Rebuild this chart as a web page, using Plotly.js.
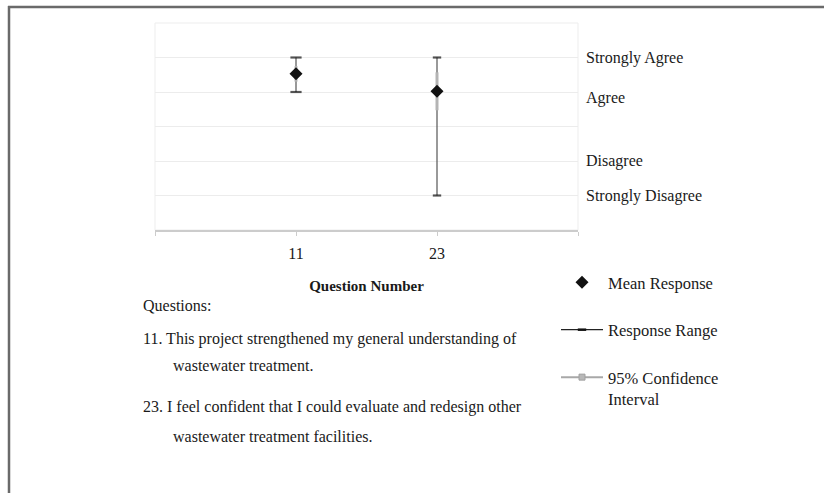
<!DOCTYPE html>
<html>
<head>
<meta charset="utf-8">
<script src="https://cdn.plot.ly/plotly-3.0.1.min.js"></script>
<style>
  html, body { margin: 0; padding: 0; background: #ffffff; }
  #chart { width: 824px; height: 493px; }
</style>
</head>
<body>
<div id="chart"></div>
<script>
// ---------------- data ----------------
const questions = ["11", "23"];
const meanResponse = [4.53, 4.02];
const rangeMin = [4, 1];
const rangeMax = [5, 5];
const ciLow = [4.30, 3.47];
const ciHigh = [4.75, 4.57];
const scaleValues = [5, 4, 2, 1];
const scaleLabels = ["Strongly Agree", "Agree", "Disagree", "Strongly Disagree"];
const questionIntro = "Questions:";
const questionLines = [
  ["This project strengthened my general understanding of", "wastewater treatment."],
  ["I feel confident that I could evaluate and redesign other", "wastewater treatment facilities."]
];
const legendNames = ["Mean Response", "Response Range", "95% Confidence<br>Interval"];

// ---------------- layout geometry ----------------
const W = 824, H = 493;
const M = { l: 155, r: 246, t: 23, b: 263 };
const PW = W - M.l - M.r, PH = H - M.t - M.b;
const px2x = px => (px - M.l) / PW;
const py2y = py => (H - M.b - py) / PH;

const xpos = questions.map((q, i) => i + 1);
const FONT = "Liberation Serif, Times New Roman, serif";

const traces = [];
// response range vertical lines
traces.push({
  x: xpos, y: meanResponse, type: "scatter", mode: "markers",
  marker: { size: 1, opacity: 0 }, showlegend: false, hoverinfo: "skip",
  error_y: {
    type: "data", symmetric: false,
    array: rangeMax.map((v, i) => v - meanResponse[i]),
    arrayminus: meanResponse.map((v, i) => v - rangeMin[i]),
    color: "#555555", thickness: 1.2, width: 0
  }
});
// confidence interval
traces.push({
  x: xpos, y: meanResponse, type: "scatter", mode: "markers",
  marker: { size: 1, opacity: 0 }, showlegend: false, hoverinfo: "skip",
  error_y: {
    type: "data", symmetric: false,
    array: ciHigh.map((v, i) => v - meanResponse[i]),
    arrayminus: meanResponse.map((v, i) => v - ciLow[i]),
    color: "#b4b4b4", thickness: 3, width: 0
  }
});
// range caps
[rangeMax, rangeMin].forEach(arr => {
  traces.push({
    x: xpos, y: arr, type: "scatter", mode: "markers", showlegend: false,
    marker: { symbol: "line-ew", size: [8, 6], line: { width: 2.2, color: "#111111" } },
    hoverinfo: "skip"
  });
});
// mean
traces.push({
  x: xpos, y: meanResponse, type: "scatter", mode: "markers", showlegend: false,
  marker: { symbol: "diamond", size: 10, color: "#111111" }
});
// legend entries
traces.push({
  x: [null], y: [null], type: "scatter", mode: "markers", name: legendNames[0],
  legendgroup: "a", marker: { symbol: "diamond", size: 10, color: "#111111" }
});
traces.push({
  x: [null], y: [null], type: "scatter", mode: "lines+markers", name: legendNames[1],
  legendgroup: "b", line: { color: "#222222", width: 1.2 },
  marker: { symbol: "line-ew", size: 6, line: { width: 2.5, color: "#111111" } }
});
traces.push({
  x: [null], y: [null], type: "scatter", mode: "lines+markers", name: legendNames[2],
  legendgroup: "c", line: { color: "#a8a8a8", width: 2 },
  marker: { symbol: "square", size: 6, color: "#b8b8b8", line: { width: 1, color: "#a0a0a0" } }
});

// y scale labels as annotations
const labelShift = [0, -6, 0, 0];
const annotations = scaleLabels.map((t, i) => ({
  text: t, xref: "paper", yref: "y", x: 1, y: scaleValues[i],
  xanchor: "left", yanchor: "middle", xshift: 6, yshift: labelShift[i],
  showarrow: false, font: { family: FONT, size: 16, color: "#1a1a1a" }
}));
// question text block
const textFont = { family: FONT, size: 16, color: "#1a1a1a" };
annotations.push({
  text: questionIntro, xref: "paper", yref: "paper", x: px2x(141), y: py2y(305),
  xanchor: "left", yanchor: "middle", showarrow: false, font: textFont
});
const lineRows = [[339, 365], [407, 436]];
questionLines.forEach((lines, qi) => {
  lines.forEach((ln, li) => {
    annotations.push({
      text: li === 0 ? questions[qi] + ". " + ln : ln,
      xref: "paper", yref: "paper",
      x: px2x(li === 0 ? 141 : 171), y: py2y(lineRows[qi][li]),
      xanchor: "left", yanchor: "middle", showarrow: false, font: textFont
    });
  });
});

const shapes = [
  // faint plot frame
  { type: "rect", xref: "paper", yref: "paper", x0: 0, x1: 1, y0: 0, y1: 1,
    line: { color: "#ededed", width: 1 }, layer: "below" },
  // outer border (left and top)
  { type: "line", xref: "paper", yref: "paper", x0: px2x(9), x1: px2x(9), y0: py2y(6), y1: py2y(H + 2),
    line: { color: "#6a6a6a", width: 2.5 } },
  { type: "line", xref: "paper", yref: "paper", x0: px2x(8), x1: px2x(W + 2), y0: py2y(7), y1: py2y(7),
    line: { color: "#6a6a6a", width: 2.5 } }
];

const layout = {
  width: W, height: H,
  margin: M,
  paper_bgcolor: "#ffffff", plot_bgcolor: "#ffffff",
  font: { family: FONT, size: 16, color: "#1a1a1a" },
  showlegend: true,
  legend: {
    x: px2x(556), y: py2y(265), xanchor: "left", yanchor: "top",
    traceorder: "grouped", tracegroupgap: 23, valign: "top", itemwidth: 42,
    font: { family: FONT, size: 16.5, color: "#1a1a1a" },
    bgcolor: "rgba(0,0,0,0)"
  },
  xaxis: {
    range: [0, 3], tickvals: [0].concat(xpos, [questions.length + 1]),
    ticktext: [""].concat(questions, [""]),
    showgrid: false, zeroline: false, showline: true, linecolor: "#cccccc", linewidth: 1.5,
    ticks: "outside", ticklen: 4, tickcolor: "#cccccc", ticklabelstandoff: 4,
    tickfont: { family: FONT, size: 16, color: "#1a1a1a" },
    title: { text: "<b>Question Number</b>", standoff: 20, font: { family: FONT, size: 15, color: "#1a1a1a" } },
    fixedrange: true
  },
  yaxis: {
    range: [0, 6], tickvals: [1, 2, 3, 4, 5], showticklabels: false,
    showgrid: true, gridcolor: "#ececec", gridwidth: 1, zeroline: false, showline: false,
    fixedrange: true
  },
  annotations: annotations,
  shapes: shapes
};

Plotly.newPlot("chart", traces, layout, { displayModeBar: false, staticPlot: true });
</script>
</body>
</html>
